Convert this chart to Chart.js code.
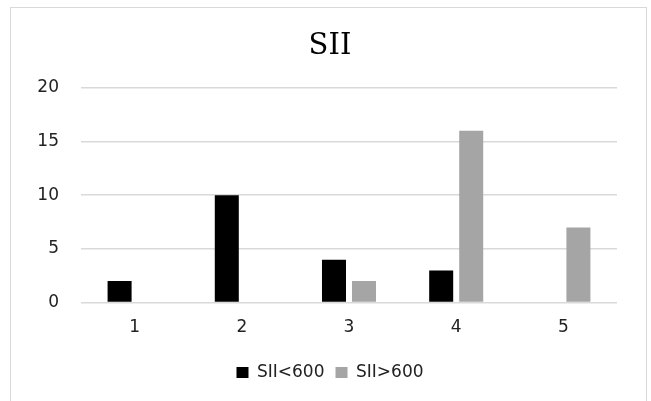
<!DOCTYPE html>
<html>
<head>
<meta charset="utf-8">
<script src="https://cdn.jsdelivr.net/npm/chart.js@4"></script>
<style>
    html, body { margin: 0; padding: 0; background: #fff; overflow: hidden; }
    #frame {
        position: absolute; left: 10px; top: 7px;
        width: 637px; height: 400px;
        border: 1.5px solid #d9d9d9;
        box-sizing: border-box;
    }
    #wrap { position: absolute; left: 0; top: 0; width: 651px; height: 401px; }
</style>
</head>
<body>
<div id="frame"></div>
<div id="wrap"><canvas id="barChart"></canvas></div>
<script>
/* ==============================
   DATA
============================== */

const categories = ["1", "2", "3", "4", "5"];
const lowValues = [2, 10, 4, 3, 0];   // SII<600
const highValues = [0, 0, 2, 16, 7];  // SII>600
const seriesNames = ["SII<600", "SII>600"];
const yTicks = [0, 5, 10, 15, 20];

/* ==============================
   CHART
============================== */

const axisFont = { family: "DejaVu Sans", size: 17 };

const barChart = new Chart(document.getElementById("barChart"), {
    type: "bar",
    data: {
        labels: categories,
        datasets: [
            {
                label: seriesNames[0],
                data: lowValues,
                backgroundColor: "#000000",
                borderWidth: 0,
                categoryPercentage: 0.56,
                barPercentage: 0.8
            },
            {
                label: seriesNames[1],
                data: highValues,
                backgroundColor: "#a5a5a5",
                borderWidth: 0,
                categoryPercentage: 0.56,
                barPercentage: 0.8
            }
        ]
    },
    options: {
        responsive: true,
        maintainAspectRatio: false,
        animation: false,
        layout: { padding: { left: 31, right: 22, top: 10, bottom: 10 } },
        plugins: {
            title: {
                display: true,
                text: "SII",
                color: "#000",
                font: { family: "DejaVu Serif", size: 29, weight: "normal" },
                padding: { top: 19, bottom: 24 }
            },
            legend: {
                position: "bottom",
                labels: {
                    color: "#222",
                    font: { family: "DejaVu Sans", size: 17 },
                    boxWidth: 12,
                    boxHeight: 11,
                    padding: 11
                }
            },
            tooltip: { enabled: false }
        },
        scales: {
            x: {
                grid: { display: false, drawTicks: false },
                border: { display: false },
                ticks: { color: "#222", font: axisFont, padding: 15 }
            },
            y: {
                min: 0,
                max: 20,
                afterBuildTicks: scale => {
                    scale.ticks = yTicks.map(v => ({ value: v }));
                },
                afterFit: scale => { scale.width = 50; },
                grid: { color: "#d9d9d9", lineWidth: 1.5, drawTicks: false },
                border: { display: false },
                ticks: { color: "#222", font: axisFont, padding: 22 }
            },
            // empty right-hand spacer so the title and legend centre like the original
            spacer: {
                type: "linear",
                position: "right",
                afterFit: scale => { scale.width = 12; },
                grid: { display: false, drawTicks: false },
                border: { display: false },
                ticks: { display: false }
            }
        }
    }
});
</script>
</body>
</html>
